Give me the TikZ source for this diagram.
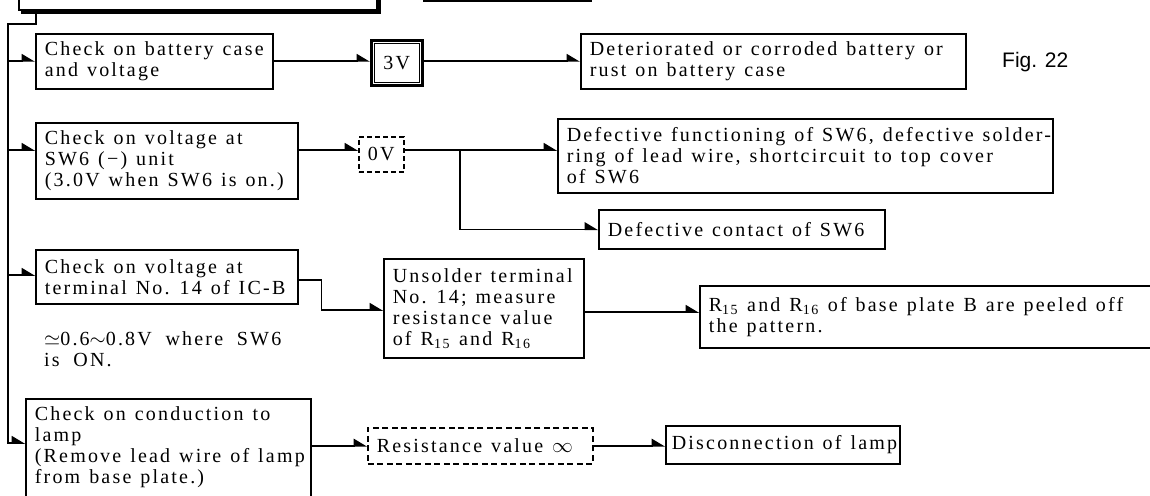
\documentclass[tikz,border=0pt]{standalone}
\usepackage{fontspec}
\setmainfont{Liberation Serif}[LetterSpace=11, WordSpace=1.9]
\newfontfamily\figfont{Liberation Sans}
\usetikzlibrary{arrows.meta}
\begin{document}
\begin{tikzpicture}[x=1pt,y=-1pt,
  every node/.style={font=\fontsize{20}{21}\selectfont},
  box/.style={draw, line width=1.6pt, anchor=north west, align=left,
    inner xsep=9pt, inner ysep=0pt,
    execute at begin node={\spaceskip=0.45em\relax
      \rightskip=0pt plus 1fil minus 60pt\relax}},
  dbox/.style={box, dash pattern=on 6pt off 3.5pt},
  vbox/.style={draw, anchor=north west, align=center, inner sep=0pt},
  wire/.style={line width=1.5pt},
  arr/.style={wire, -{Triangle[harpoon, length=12pt, width=14pt]}},
]
\useasboundingbox (0,0) rectangle (1150,495);

% header boxes (cut by the top edge)
\fill (21,-30) rectangle (380.5,14);
\node[draw, fill=white, line width=1.6pt, anchor=south west, minimum width=358pt,
  minimum height=40pt, inner sep=0pt] (topbox) at (18,11) {};
\node[draw, line width=2.2pt, anchor=south west, minimum width=167pt,
  minimum height=30pt, inner sep=0pt] (topbox2) at (423,2) {};

% row 1: battery
\node[box, text width=219pt, minimum height=55pt] (c1) at (35,33)
  {Check on battery case\\and voltage};
\node[vbox, line width=2.6pt, minimum width=51pt, minimum height=45pt] (v3) at (370,39) {3V};
\draw[line width=0.8pt] ([shift={(4,-4)}]v3.south west) rectangle ([shift={(-4,4)}]v3.north east);
\node[box, text width=367pt, minimum height=55pt] (d1) at (580,33)
  {Deteriorated or corroded battery or\\rust on battery case};
\node[font=\figfont\fontsize{21}{24}\selectfont, anchor=west, inner sep=0pt] (fig) at (1002,62) {Fig. 22};

% row 2: SW6
\node[box, text width=244pt, minimum height=76pt] (c2) at (35,122)
  {Check on voltage at\\SW6 (−) unit\\(3.0V when SW6 is on.)};
\node[vbox, line width=1.6pt, dash pattern=on 5pt off 3pt, minimum width=45pt, minimum height=35pt] (v0) at (358,136) {0V};
\node[box, text width=477pt, minimum height=74pt] (d2) at (557,118)
  {Defective functioning of SW6, defective solder-\\ring of lead wire, shortcircuit to top cover\\of SW6};
\node[box, text width=268pt, minimum height=39pt] (d3) at (598,209)
  {Defective contact of SW6};

% row 3: IC-B
\node[box, text width=244pt, minimum height=54pt] (c3) at (35,249)
  {Check on voltage at\\terminal No. 14 of IC-B};
\node[anchor=north west, align=left, inner sep=0pt] (note) at (44,331)
  {$\simeq$0.6$\sim$0.8V where SW6\\is ON.};
\node[box, text width=182pt, minimum height=99pt] (u) at (383,258)
  {Unsolder terminal\\No. 14; measure\\resistance value\\of R\textsubscript{15} and R\textsubscript{16}};
\node[box, text width=463pt, minimum height=62pt] (r) at (699,285)
  {R\textsubscript{15} and R\textsubscript{16} of base plate B are peeled off\\the pattern.};

% row 4: lamp
\node[box, text width=267pt, inner ysep=8pt] (c4) at (25,398)
  {Check on conduction to\\lamp\\(Remove lead wire of lamp\\from base plate.)\rule[-22pt]{0pt}{0pt}};
\node[dbox, text width=207pt, minimum height=36pt] (rv) at (367,427)
  {Resistance value $\infty$};
\node[box, inner xsep=6pt, text width=222pt, minimum height=38pt] (dl) at (665,425)
  {Disconnection of lamp};

% spine and branch points
\coordinate (k) at (36,11);
\coordinate (s0) at (8,24);
\coordinate (s1) at (8,61);
\coordinate (s2) at (8,150);
\coordinate (s3) at (8,275);
\coordinate (s4) at (8,443);
\coordinate (j) at (460,150);

\draw[arr] (k) |- (s0) |- (c4.west |- s4);
\draw[arr] (s1) -- (s1 -| c1.west);
\draw[arr] (s2) -- (s2 -| c2.west);
\draw[arr] (s3) -- (s3 -| c3.west);

% row 1 connectors
\draw[arr] (c1.east |- s1) -- (s1 -| v3.west);
\draw[arr] (v3.east |- s1) -- (s1 -| d1.west);

% row 2 connectors
\draw[arr] (c2.east |- s2) -- (s2 -| v0.west);
\draw[arr] (v0.east |- s2) -- (s2 -| d2.west);
\draw[arr] (j) |- (d3.west);

% row 3 connectors
\draw[arr] (c3.east |- 0,280) -- ++(23,0) |- (u.west |- 0,310);
\draw[arr] (u.east |- 0,312) -- (r.west |- 0,312);

% row 4 connectors
\draw[arr] (c4.east |- rv.west) -- (rv.west);
\draw[arr] (rv.east) -- (rv.east -| dl.west);
\end{tikzpicture}
\end{document}
